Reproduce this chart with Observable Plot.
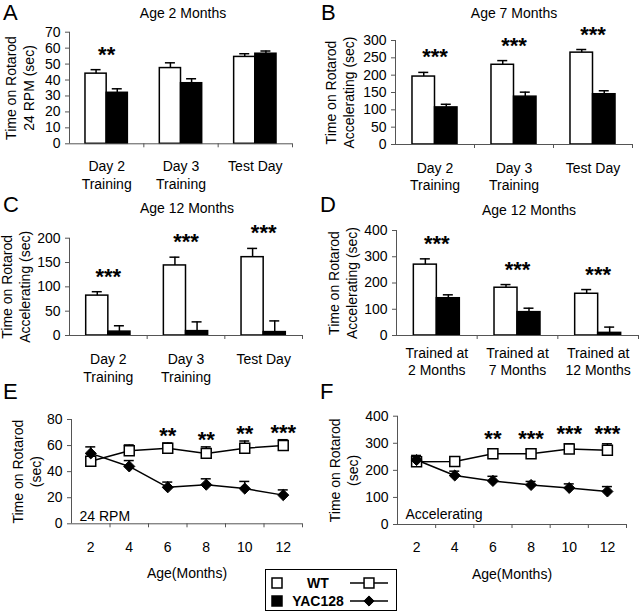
<!DOCTYPE html>
<html><head><meta charset="utf-8">
<script src="https://cdn.jsdelivr.net/npm/d3@7"></script>
<script src="https://cdn.jsdelivr.net/npm/@observablehq/plot@0.6"></script>
<style>
html,body{margin:0;padding:0;background:#fff;}
#fig{position:relative;width:640px;height:613px;overflow:hidden;font-family:"Liberation Sans",Arial,sans-serif;color:#000;background:#fff;}
.abs{position:absolute;}
.letter{font-size:22px;line-height:normal;}
.title{font-size:14px;line-height:14px;width:200px;text-align:center;}
</style></head><body><div id="fig"></div>
<script>
// ---------- data ----------
const dayCategories = ["Day 2\nTraining", "Day 3\nTraining", "Test Day"];
const trainedCategories = ["Trained at\n2 Months", "Trained at\n7 Months", "Trained at\n12 Months"];
const ageMonths = [2, 4, 6, 8, 10, 12];
const seriesNames = ["WT", "YAC128"];

// Panel A: Age 2 Months, 24 RPM
const aWT = [44, 47.5, 54.5], aWTErr = [2.5, 3.3, 2];
const aYAC = [32, 38, 56.5], aYACErr = [2.5, 2.8, 1.7];
const aSig = ["**", "", ""];
const aTicks = [0, 10, 20, 30, 40, 50, 60, 70];

// Panel B: Age 7 Months, accelerating
const bWT = [196, 230, 265], bWTErr = [12, 12, 9];
const bYAC = [107, 138, 145], bYACErr = [9, 13, 10];
const bSig = ["***", "***", "***"];
const bTicks = [0, 50, 100, 150, 200, 250, 300];

// Panel C: Age 12 Months, accelerating
const cWT = [82, 144, 161], cWTErr = [8, 17, 18];
const cYAC = [8, 9, 7], cYACErr = [12, 19, 23];
const cSig = ["***", "***", "***"];
const cTicks = [0, 50, 100, 150, 200];

// Panel D: Age 12 Months, trained at different ages
const dWT = [270, 182, 159], dWTErr = [22, 12, 16];
const dYAC = [142, 89, 10], dYACErr = [13, 15, 22];
const dSig = ["***", "***", "***"];
const dTicks = [0, 100, 200, 300, 400];

// Panel E: 24 RPM over age
const eWT = [48, 56, 58, 54, 58, 60], eWTErr = [3, 4.5, 4, 5, 5.5, 4.5];
const eYAC = [54, 44, 28, 30, 27, 22], eYACErr = [5, 4.5, 4, 4.5, 5.5, 4];
const eSig = ["", "", "**", "**", "**", "***"];
const eTicks = [0, 20, 40, 60, 80];

// Panel F: Accelerating over age
const fWT = [232, 233, 261, 261, 279, 274], fWTErr = [18, 6, 18, 17, 19, 24];
const fYAC = [238, 181, 161, 146, 135, 122], fYACErr = [17, 16, 17, 13, 15, 18];
const fSig = ["", "", "**", "***", "***", "***"];
const fTicks = [0, 100, 200, 300, 400];

// ---------- helpers ----------
const FONT = "'Liberation Sans', Arial, sans-serif";
const AX = "#555";
const fig = document.getElementById("fig");

function place(el, left, top) {
  const wrap = document.createElement("div");
  wrap.className = "abs";
  wrap.style.left = left + "px";
  wrap.style.top = top + "px";
  wrap.appendChild(el);
  fig.appendChild(wrap);
}
function addText(cls, txt, left, top) {
  const d = document.createElement("div");
  d.className = "abs " + cls;
  d.style.left = left + "px";
  d.style.top = top + "px";
  d.textContent = txt;
  fig.appendChild(d);
}
const baseStyle = {fontFamily: FONT, fontSize: "14px", background: "transparent", overflow: "visible", color: "black"};

function barPanel(o) {
  const n = o.cats.length;
  const bw = (o.W - o.ml - o.mr) / n;
  const group = bw * 0.57, barW = group / 2, side = (bw - group) / 2;
  const ymax = o.ticks[o.ticks.length - 1];
  const wtRows = o.cats.map((c, i) => ({c, v: o.wt[i], e: o.wtErr[i], s: o.sig[i]}));
  const yacRows = o.cats.map((c, i) => ({c, v: o.yac[i], e: o.yacErr[i]}));
  const capIn = bw / 2 - 5;
  const svg = Plot.plot({
    width: o.W, height: o.H,
    marginLeft: o.ml, marginRight: o.mr, marginTop: o.mt, marginBottom: o.mb,
    x: {type: "band", domain: o.cats, padding: 0, round: false},
    y: {domain: [0, ymax]},
    style: baseStyle,
    marks: [
      Plot.axisY({ticks: o.ticks, tickSize: 4, tickPadding: 5, label: null, stroke: AX, fill: "black"}),
      Plot.axisX({tickSize: 4, tickFormat: () => "", dx: bw / 2, label: null, stroke: AX}),
      Plot.text(o.cats, {x: d => d, text: d => d, frameAnchor: "bottom", lineAnchor: "top", dy: o.xdy, lineHeight: 1.25, fill: "black"}),
      Plot.barY(wtRows, {x: "c", y: "v", fill: "white", stroke: "black", strokeWidth: 1.5, insetLeft: side, insetRight: bw / 2}),
      Plot.barY(yacRows, {x: "c", y: "v", fill: "black", stroke: "black", strokeWidth: 1.5, insetLeft: bw / 2, insetRight: side}),
      Plot.ruleX(wtRows, {x: "c", y1: "v", y2: d => d.v + d.e, dx: -barW / 2, stroke: "black", strokeWidth: 1.5}),
      Plot.tickY(wtRows, {x: "c", y: d => d.v + d.e, dx: -barW / 2, insetLeft: capIn, insetRight: capIn, stroke: "black", strokeWidth: 1.5}),
      Plot.ruleX(yacRows, {x: "c", y1: "v", y2: d => d.v + d.e, dx: barW / 2, stroke: "black", strokeWidth: 1.5}),
      Plot.tickY(yacRows, {x: "c", y: d => d.v + d.e, dx: barW / 2, insetLeft: capIn, insetRight: capIn, stroke: "black", strokeWidth: 1.5}),
      Plot.ruleY([0], {stroke: AX}),
      Plot.ruleX([o.cats[0]], {y1: 0, y2: ymax, dx: -bw / 2, stroke: AX}),
      Plot.text(wtRows.filter(d => d.s), {x: "c", y: d => d.v + d.e, text: "s", dy: o.sdy, fontSize: 22, fontWeight: "bold", fill: "black"}),
      Plot.text([o.ylabel], {text: d => d, frameAnchor: "left", textAnchor: "middle", lineAnchor: "middle", rotate: -90, dx: o.ldx, lineHeight: 1.3, fill: "black"})
    ]
  });
  place(svg, o.left, o.top);
}

function linePanel(o) {
  const n = ageMonths.length;
  const bw = (o.W - o.ml - o.mr) / n;
  const ymax = o.ticks[o.ticks.length - 1];
  const wtRows = ageMonths.map((m, i) => ({m, v: o.wt[i], e: o.wtErr[i], s: o.sig[i]}));
  const yacRows = ageMonths.map((m, i) => ({m, v: o.yac[i], e: o.yacErr[i]}));
  const capIn = bw / 2 - 5;
  const svg = Plot.plot({
    width: o.W, height: o.H,
    marginLeft: o.ml, marginRight: o.mr, marginTop: o.mt, marginBottom: o.mb,
    x: {type: "band", domain: ageMonths, padding: 0, round: false},
    y: {domain: [0, ymax]},
    style: baseStyle,
    marks: [
      Plot.axisY({ticks: o.ticks, tickSize: 4, tickPadding: 5, label: null, stroke: AX, fill: "black"}),
      Plot.axisX({tickSize: 4, tickFormat: () => "", dx: bw / 2, label: null, stroke: AX}),
      Plot.axisX({tickSize: 0, tickPadding: 18, label: null, fill: "black"}),
      Plot.text([o.xtitle], {text: d => d, frameAnchor: "bottom", lineAnchor: "middle", dy: 50, fill: "black"}),
      Plot.ruleY([0], {stroke: AX}),
      Plot.ruleX([ageMonths[0]], {y1: 0, y2: ymax, dx: -bw / 2, stroke: AX}),
      Plot.ruleX(wtRows, {x: "m", y1: "v", y2: d => d.v + d.e, stroke: "black", strokeWidth: 1.5}),
      Plot.tickY(wtRows, {x: "m", y: d => d.v + d.e, insetLeft: capIn, insetRight: capIn, stroke: "black", strokeWidth: 1.5}),
      Plot.ruleX(yacRows, {x: "m", y1: "v", y2: d => d.v + d.e, stroke: "black", strokeWidth: 1.5}),
      Plot.tickY(yacRows, {x: "m", y: d => d.v + d.e, insetLeft: capIn, insetRight: capIn, stroke: "black", strokeWidth: 1.5}),
      Plot.line(wtRows, {x: "m", y: "v", stroke: "black", strokeWidth: 1.5}),
      Plot.line(yacRows, {x: "m", y: "v", stroke: "black", strokeWidth: 1.5}),
      Plot.dot(wtRows, {x: "m", y: "v", symbol: "square", r: 5.6, fill: "white", stroke: "black", strokeWidth: 1.5}),
      Plot.dot(yacRows, {x: "m", y: "v", symbol: "diamond2", r: 5, fill: "black", stroke: "black", strokeWidth: 1}),
      Plot.text(wtRows.filter(d => d.s), {x: "m", y: d => d.v + d.e, text: "s", dy: o.sdy, fontSize: 22, fontWeight: "bold", fill: "black"}),
      Plot.text([o.note], {text: d => d, frameAnchor: "bottom-left", textAnchor: "start", lineAnchor: "middle", dx: 8, dy: o.ndy, fill: "black"}),
      Plot.text([o.ylabel], {text: d => d, frameAnchor: "left", textAnchor: "middle", lineAnchor: "middle", rotate: -90, dx: o.ldx, lineHeight: 1.3, fill: "black"})
    ]
  });
  place(svg, o.left, o.top);
}

// ---------- panels ----------
barPanel({cats: dayCategories, wt: aWT, wtErr: aWTErr, yac: aYAC, yacErr: aYACErr, sig: aSig, ticks: aTicks,
  ylabel: "Time on Rotarod\n24 RPM (sec)", left: 0, top: 0, W: 320, H: 200, ml: 69, mr: 28, mt: 31.7, mb: 56.7, ldx: -50, xdy: 15, sdy: -15});
barPanel({cats: dayCategories, wt: bWT, wtErr: bWTErr, yac: bYAC, yacErr: bYACErr, sig: bSig, ticks: bTicks,
  ylabel: "Time on Rotarod\nAccelerating (sec)", left: 320, top: 0, W: 320, H: 200, ml: 75, mr: 8, mt: 40, mb: 56, ldx: -56, xdy: 16, sdy: -15});
barPanel({cats: dayCategories, wt: cWT, wtErr: cWTErr, yac: cYAC, yacErr: cYACErr, sig: cSig, ticks: cTicks,
  ylabel: "Time on Rotarod\nAccelerating (sec)", left: 0, top: 195, W: 320, H: 195, ml: 69, mr: 18, mt: 42.7, mb: 55, ldx: -54, xdy: 16.5, sdy: -15});
barPanel({cats: trainedCategories, wt: dWT, wtErr: dWTErr, yac: dYAC, yacErr: dYACErr, sig: dSig, ticks: dTicks,
  ylabel: "Time on Rotarod\nAccelerating (sec)", left: 320, top: 195, W: 320, H: 195, ml: 76, mr: 2, mt: 35, mb: 55, ldx: -54.5, xdy: 10, sdy: -15});
linePanel({wt: eWT, wtErr: eWTErr, yac: eYAC, yacErr: eYACErr, sig: eSig, ticks: eTicks,
  ylabel: "Time on Rotarod\n(sec)", note: "24 RPM", xtitle: "Age(Months)", left: 0, top: 390, W: 320, H: 223, ml: 71, mr: 18, mt: 29, mb: 89.7, ldx: -45, ndy: -7, sdy: -7});
linePanel({wt: fWT, wtErr: fWTErr, yac: fYAC, yacErr: fYACErr, sig: fSig, ticks: fTicks,
  ylabel: "Time on Rotarod\n(sec)", note: "Accelerating", xtitle: "Age(Months)", left: 320, top: 390, W: 320, H: 223, ml: 77, mr: 14, mt: 25.7, mb: 89, ldx: -54, ndy: -10, sdy: -10});

// ---------- letters & titles ----------
addText("letter", "A", 3, 0);
addText("letter", "B", 321, 0);
addText("letter", "C", 3, 192);
addText("letter", "D", 320, 192);
addText("letter", "E", 3, 379);
addText("letter", "F", 320, 379);
addText("title", "Age 2 Months", 83, 6);
addText("title", "Age 7 Months", 414, 6);
addText("title", "Age 12 Months", 87, 201);
addText("title", "Age 12 Months", 429, 203);

// ---------- legend ----------
(function legend() {
  const ns = "http://www.w3.org/2000/svg";
  const box = document.createElement("div");
  box.className = "abs";
  box.style.cssText = "left:265px;top:569px;width:130px;height:40px;border:1.5px solid #000;background:#fff;";
  const s = document.createElementNS(ns, "svg");
  s.setAttribute("width", 130); s.setAttribute("height", 40);
  s.style.cssText = "position:absolute;left:0;top:0;overflow:visible";
  const rowsY = [13, 31];
  seriesNames.forEach((name, i) => {
    const y = rowsY[i];
    const sw = document.createElementNS(ns, "rect");
    sw.setAttribute("x", 6); sw.setAttribute("y", y - 5); sw.setAttribute("width", 10); sw.setAttribute("height", 10);
    sw.setAttribute("fill", i === 0 ? "white" : "black"); sw.setAttribute("stroke", "black"); sw.setAttribute("stroke-width", 1.5);
    s.appendChild(sw);
    const t = document.createElementNS(ns, "text");
    t.setAttribute("x", 52); t.setAttribute("y", y); t.setAttribute("dy", "0.35em");
    t.setAttribute("text-anchor", "middle");
    t.setAttribute("style", "font:bold 14px " + FONT);
    t.textContent = name;
    s.appendChild(t);
    const ln = document.createElementNS(ns, "line");
    ln.setAttribute("x1", 84); ln.setAttribute("x2", 122); ln.setAttribute("y1", y); ln.setAttribute("y2", y);
    ln.setAttribute("stroke", "black"); ln.setAttribute("stroke-width", 1.5);
    s.appendChild(ln);
    const mk = document.createElementNS(ns, "path");
    mk.setAttribute("transform", `translate(103,${y})`);
    mk.setAttribute("d", i === 0 ? d3.symbol(d3.symbolSquare, 98)() : d3.symbol(d3.symbolDiamond2, 66)());
    mk.setAttribute("fill", i === 0 ? "white" : "black"); mk.setAttribute("stroke", "black"); mk.setAttribute("stroke-width", i === 0 ? 1.5 : 1);
    s.appendChild(mk);
  });
  box.appendChild(s);
  fig.appendChild(box);
})();
</script></body></html>
